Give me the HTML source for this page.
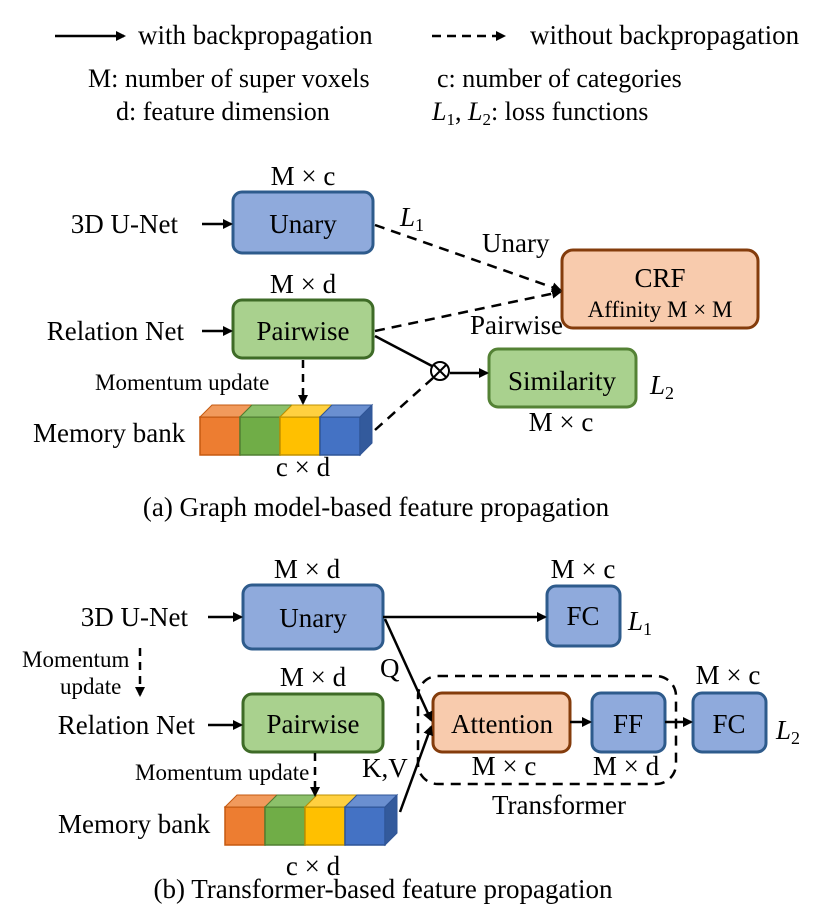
<!DOCTYPE html>
<html><head><meta charset="utf-8"><style>body{margin:0;background:#fff}svg{display:block}text{font-family:"Liberation Serif",serif;fill:#000}</style></head><body>
<svg width="821" height="917" viewBox="0 0 821 917" xmlns="http://www.w3.org/2000/svg">
<defs>
<marker id="a" markerWidth="10" markerHeight="10" refX="8" refY="5" orient="auto" markerUnits="userSpaceOnUse"><path d="M0,0 L10,5 L0,10 z" fill="#000"/></marker>
<g id="bank">
<rect x="0" y="0" width="40" height="38" fill="#ed7d31" stroke="#c55a11" stroke-width="1.5"/>
<path d="M0,0 l12,-12 h40 l-12,12 z" fill="#f19a5c" stroke="#c55a11" stroke-width="1"/>
<rect x="40" y="0" width="40" height="38" fill="#70ad47" stroke="#507e32" stroke-width="1.5"/>
<path d="M40,0 l12,-12 h40 l-12,12 z" fill="#8cc06a" stroke="#507e32" stroke-width="1"/>
<rect x="80" y="0" width="40" height="38" fill="#ffc000" stroke="#bf9000" stroke-width="1.5"/>
<path d="M80,0 l12,-12 h40 l-12,12 z" fill="#ffd040" stroke="#bf9000" stroke-width="1"/>
<rect x="120" y="0" width="40" height="38" fill="#4472c4" stroke="#2f5597" stroke-width="1.5"/>
<path d="M120,0 l12,-12 h40 l-12,12 z" fill="#6a8fd0" stroke="#2f5597" stroke-width="1"/>
<path d="M160,0 l12,-12 v38 l-12,12 z" fill="#335a9c" stroke="#2f5597" stroke-width="1"/>
</g>
</defs>
<g stroke="#000" stroke-width="2.5" fill="none">
<line x1="55" y1="36" x2="124" y2="36" marker-end="url(#a)"/>
<line x1="432" y1="36" x2="504" y2="36" stroke-dasharray="9,6" marker-end="url(#a)"/>
</g>
<g font-size="27">
<text x="138" y="44">with backpropagation</text>
<text x="530" y="44">without backpropagation</text>
</g>
<g font-size="26">
<text x="88" y="87">M: number of super voxels</text>
<text x="437" y="87">c: number of categories</text>
<text x="116" y="120">d: feature dimension</text>
<text x="432" y="120"><tspan font-style="italic">L</tspan><tspan font-size="17" dy="5">1</tspan><tspan dy="-5">, </tspan><tspan font-style="italic">L</tspan><tspan font-size="17" dy="5">2</tspan><tspan dy="-5">: loss functions</tspan></text>
</g>
<!-- (a) -->
<rect x="233" y="192" width="140" height="61" rx="9" fill="#8faadc" stroke="#2e5b8c" stroke-width="3"/>
<rect x="233" y="300" width="140" height="58" rx="9" fill="#a9d18e" stroke="#3e6b27" stroke-width="3"/>
<rect x="562" y="250" width="196" height="78" rx="11" fill="#f8cbad" stroke="#843c0c" stroke-width="3"/>
<rect x="489" y="349" width="147" height="58" rx="9" fill="#a9d18e" stroke="#548235" stroke-width="3"/>
<use href="#bank" x="200" y="417"/>
<g stroke="#000" stroke-width="2.5" fill="none">
<line x1="202" y1="224" x2="231" y2="224" marker-end="url(#a)"/>
<line x1="202" y1="331" x2="231" y2="331" marker-end="url(#a)"/>
<line x1="303" y1="360" x2="303" y2="403" stroke-dasharray="8,6" marker-end="url(#a)"/>
<line x1="375" y1="225" x2="560" y2="290" stroke-dasharray="10,7" marker-end="url(#a)"/>
<line x1="375" y1="331" x2="560" y2="292" stroke-dasharray="10,7" marker-end="url(#a)"/>
<line x1="375" y1="336" x2="432" y2="366" />
<line x1="375" y1="430" x2="433" y2="378" stroke-dasharray="10,7"/>
<line x1="450" y1="373" x2="487" y2="373" marker-end="url(#a)"/>
<circle cx="440" cy="371" r="9" stroke-width="2"/>
<line x1="434" y1="365" x2="446" y2="377" stroke-width="2"/>
<line x1="446" y1="365" x2="434" y2="377" stroke-width="2"/>
</g>
<g font-size="27" text-anchor="middle">
<text x="303" y="185">M × c</text>
<text x="303" y="293">M × d</text>
<text x="303" y="233">Unary</text>
<text x="303" y="340">Pairwise</text>
<text x="660" y="287">CRF</text>
<text x="660" y="317" font-size="23">Affinity M × M</text>
<text x="562" y="390">Similarity</text>
<text x="561" y="431">M × c</text>
<text x="303" y="476">c × d</text>
<text x="376" y="516">(a) Graph model-based feature propagation</text>
</g>
<g font-size="27">
<text x="178" y="233" text-anchor="end">3D U-Net</text>
<text x="184" y="340" text-anchor="end">Relation Net</text>
<text x="95" y="390" font-size="23">Momentum update</text>
<text x="33" y="442">Memory bank</text>
<text x="482" y="252">Unary</text>
<text x="470" y="334">Pairwise</text>
<text x="400" y="226" font-style="italic">L<tspan font-size="18" dy="5" font-style="normal">1</tspan></text>
<text x="650" y="394" font-style="italic">L<tspan font-size="18" dy="5" font-style="normal">2</tspan></text>
</g>
<!-- (b) -->
<rect x="243" y="585" width="140" height="64" rx="9" fill="#8faadc" stroke="#2e5b8c" stroke-width="3"/>
<rect x="243" y="694" width="140" height="58" rx="9" fill="#a9d18e" stroke="#3e6b27" stroke-width="3"/>
<rect x="547" y="586" width="73" height="60" rx="9" fill="#8faadc" stroke="#2e5b8c" stroke-width="3"/>
<rect x="433" y="693" width="137" height="59" rx="9" fill="#f8cbad" stroke="#843c0c" stroke-width="3"/>
<rect x="592" y="693" width="73" height="59" rx="9" fill="#8faadc" stroke="#2e5b8c" stroke-width="3"/>
<rect x="693" y="693" width="73" height="59" rx="9" fill="#8faadc" stroke="#2e5b8c" stroke-width="3"/>
<rect x="418" y="676" width="258" height="108" rx="20" fill="none" stroke="#000" stroke-width="2.5" stroke-dasharray="10,7"/>
<use href="#bank" x="225" y="807"/>
<g stroke="#000" stroke-width="2.5" fill="none">
<line x1="208" y1="617" x2="241" y2="617" marker-end="url(#a)"/>
<line x1="208" y1="725" x2="241" y2="725" marker-end="url(#a)"/>
<line x1="140" y1="648" x2="140" y2="695" stroke-dasharray="8,6" marker-end="url(#a)"/>
<line x1="315" y1="753" x2="315" y2="795" stroke-dasharray="8,6" marker-end="url(#a)"/>
<line x1="383" y1="617" x2="545" y2="617" marker-end="url(#a)"/>
<line x1="385" y1="619" x2="431" y2="720" marker-end="url(#a)"/>
<line x1="400" y1="812" x2="431" y2="727" marker-end="url(#a)"/>
<line x1="570" y1="722" x2="590" y2="722" marker-end="url(#a)"/>
<line x1="665" y1="722" x2="691" y2="722" marker-end="url(#a)"/>
</g>
<g font-size="27" text-anchor="middle">
<text x="307" y="578">M × d</text>
<text x="313" y="686">M × d</text>
<text x="583" y="578">M × c</text>
<text x="728" y="684">M × c</text>
<text x="313" y="627">Unary</text>
<text x="313" y="733">Pairwise</text>
<text x="583" y="625">FC</text>
<text x="502" y="733">Attention</text>
<text x="628" y="733">FF</text>
<text x="729" y="733">FC</text>
<text x="504" y="775">M × c</text>
<text x="626" y="775">M × d</text>
<text x="559" y="814">Transformer</text>
<text x="313" y="875">c × d</text>
<text x="383" y="898">(b) Transformer-based feature propagation</text>
</g>
<g font-size="27">
<text x="188" y="626" text-anchor="end">3D U-Net</text>
<text x="195" y="734" text-anchor="end">Relation Net</text>
<text x="22" y="667" font-size="23">Momentum</text>
<text x="60" y="694" font-size="23">update</text>
<text x="135" y="780" font-size="23">Momentum update</text>
<text x="58" y="833">Memory bank</text>
<text x="380" y="677">Q</text>
<text x="362" y="777">K,V</text>
<text x="628" y="630" font-style="italic">L<tspan font-size="18" dy="5" font-style="normal">1</tspan></text>
<text x="776" y="739" font-style="italic">L<tspan font-size="18" dy="5" font-style="normal">2</tspan></text>
</g>
</svg>
</body></html>
